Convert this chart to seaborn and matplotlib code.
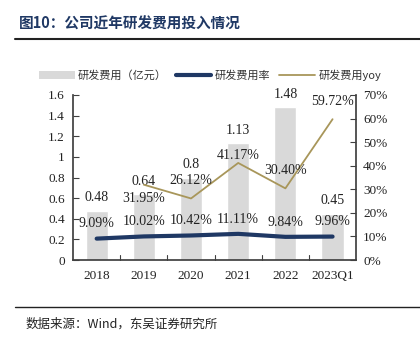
import numpy as np
import pandas as pd
import matplotlib
matplotlib.use("Agg")
import matplotlib.pyplot as plt
import seaborn as sns

years = ["2018", "2019", "2020", "2021", "2022", "2023Q1"]
rd_expense = [0.48, 0.64, 0.8, 1.13, 1.48, 0.45]
rd_rate = [9.09, 10.02, 10.42, 11.11, 9.84, 9.96]
rd_yoy = [np.nan, 31.95, 26.12, 41.17, 30.40, 59.72]
expense_labels = ["0.48", "0.64", "0.8", "1.13", "1.48", "0.45"]

sns.set_theme(style="white")
plt.rcParams['font.family'] = ['Liberation Serif', 'Noto Sans CJK SC', 'DejaVu Sans']
cjk = ['Noto Sans CJK SC', 'DejaVu Sans']

fig = plt.figure(figsize=(4.2, 3.44), dpi=100)
ax = fig.add_axes([0.174, 0.244, 0.674, 0.48])

df = pd.DataFrame({"year": years, "exp": rd_expense, "rate": rd_rate, "yoy": rd_yoy,
                   "pos": np.arange(len(years))})

bar_c = "#d9d9d9"
rate_c = "#1f3864"
yoy_c = "#a8965a"

sns.barplot(data=df, x="year", y="exp", color=bar_c, width=0.47, ax=ax, saturation=1)
ax.set_ylim(0, 1.6)
ax.set_yticks(np.arange(0, 1.61, 0.2))
ax.set_yticklabels(["0", "0.2", "0.4", "0.6", "0.8", "1", "1.2", "1.4", "1.6"])
ax.set_xlim(-0.5, len(years) - 0.5)
ax.set_xlabel("")
ax.set_ylabel("")

ax2 = ax.twinx()
sns.lineplot(data=df, x="pos", y="rate", color=rate_c, linewidth=3, ax=ax2, legend=False)
sns.lineplot(data=df.dropna(), x="pos", y="yoy", color=yoy_c, linewidth=1.3, ax=ax2, legend=False)
ax2.set_ylim(0, 70)
ax2.set_yticks(np.arange(0, 71, 10))
ax2.set_yticklabels([f"{v}%" for v in range(0, 71, 10)])
ax2.set_xlim(-0.5, len(years) - 0.5)
ax2.set_xlabel("")
ax2.set_ylabel("")

# spines / ticks
for a in (ax, ax2):
    a.spines["top"].set_visible(False)
    a.spines["left"].set_color("#404040")
    a.spines["right"].set_color("#404040")
    a.spines["bottom"].set_color("#404040")
    a.grid(False)
ax.spines["right"].set_visible(False)
ax2.spines["left"].set_visible(False)
ax2.spines["bottom"].set_visible(False)
ax.tick_params(axis="y", direction="in", length=4, width=0.8, color="#404040",
               labelsize=9.5, labelcolor="#222222", pad=6, left=True)
ax2.tick_params(axis="y", direction="in", length=4, width=0.8, color="#404040",
                labelsize=9.5, labelcolor="#222222", pad=5, right=True)
ax.set_xticks(np.arange(len(years)))
ax.set_xticklabels(years)
ax.tick_params(axis="x", length=0, labelsize=9.5, labelcolor="#222222", pad=7)
for b in np.arange(0.5, len(years) - 1, 1.0):
    ax.plot([b, b], [0, 0.05], color="#404040", lw=0.8, clip_on=False)

# labels
fs = 10
for i, v in enumerate(rd_expense):
    ax.annotate(expense_labels[i], (i, v), xytext=(0, 4.5), textcoords="offset points",
                ha="center", va="bottom", fontsize=fs, color="#222222")
for i, v in enumerate(rd_rate):
    ax2.annotate(f"{v:.2f}%", (i, v), xytext=(0, 6), textcoords="offset points",
                 ha="center", va="bottom", fontsize=fs, color="#222222")
yoy_offsets = [0, -5, 8, 1, 8, 8]
for i, v in enumerate(rd_yoy):
    if np.isnan(v):
        continue
    off = yoy_offsets[i]
    ax2.annotate(f"{v:.2f}%", (i, v), xytext=(0, off), textcoords="offset points",
                 ha="center", va="top" if off < 0 else "bottom", fontsize=fs, color="#222222")

# legend
from matplotlib.patches import Patch
from matplotlib.lines import Line2D
handles = [Patch(facecolor=bar_c, edgecolor="none"),
           Line2D([], [], color=rate_c, lw=3),
           Line2D([], [], color=yoy_c, lw=1.3)]
labels = ["研发费用（亿元）", "研发费用率", "研发费用yoy"]
leg = fig.legend(handles, labels, loc="center", bbox_to_anchor=(0.5, 0.782), ncol=3,
                 frameon=False, handlelength=3.2, handletextpad=0.3,
                 columnspacing=0.8, prop={"family": cjk, "size": 8})
for t in leg.get_texts():
    t.set_color("#333333")

# title & source
fig.text(0.045, 0.93, "图10：公司近年研发费用投入情况", fontsize=10.5, fontweight="bold",
         color="#1f3864", family=cjk, va="center", ha="left")
fig.add_artist(Line2D([0.036, 1.0], [0.887, 0.887], color="#222222", lw=1.5,
                      transform=fig.transFigure))
fig.add_artist(Line2D([0.036, 1.0], [0.108, 0.108], color="#222222", lw=1.0,
                      transform=fig.transFigure))
fig.text(0.06, 0.058, "数据来源：Wind，东吴证券研究所", fontsize=9, color="#222222",
         family=cjk, va="center", ha="left")

fig.savefig("out.png", dpi=100)
